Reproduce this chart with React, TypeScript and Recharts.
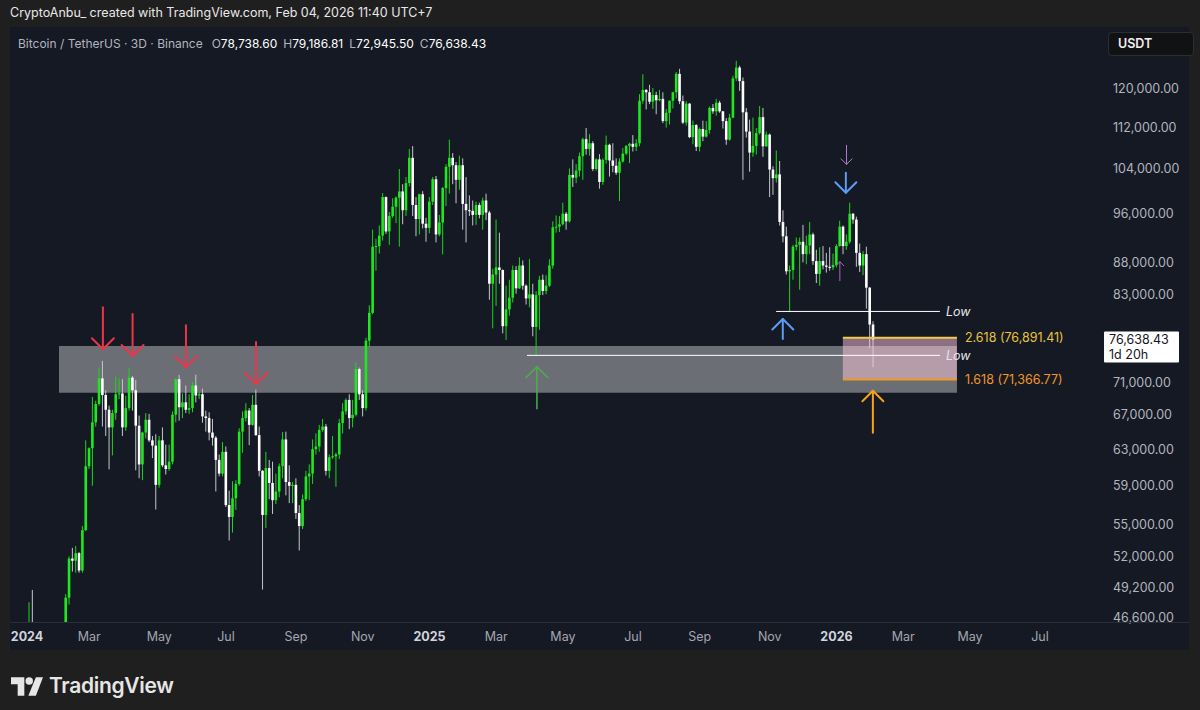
import React from 'react';
import { ComposedChart, Bar, XAxis, YAxis, ReferenceArea, ReferenceLine, ReferenceDot } from 'recharts';

// ---- 3D candles (BTC/USDT, Binance), bar 0 = Jan 1 2024, bar 255 = Feb 3 2026. Prices in thousands ----
const firstOpenK = 42.28;
const closeK = [
  42.85, 44.0, 46.1, 42.8, 42.5, 41.3, 41.6, 40.1, 42.1, 43.3,
  43.2, 42.7, 45.3, 48.3, 51.8, 51.6, 52.3, 50.7, 54.5, 61.1,
  63.1, 66.1, 68.3, 71.5, 69.4, 67.6, 65.5, 67.2, 69.5, 69.6,
  65.5, 67.8, 71.6, 70.0, 65.7, 61.3, 64.9, 66.4, 64.0, 63.4,
  59.1, 64.0, 61.2, 60.8, 61.6, 67.0, 71.4, 67.9, 68.5, 67.6,
  67.8, 70.6, 69.35, 69.5, 66.8, 66.6, 64.9, 64.3, 61.8, 60.3,
  62.7, 57.0, 55.8, 57.7, 59.2, 65.0, 66.6, 67.5, 65.8, 68.2,
  64.6, 60.6, 56.0, 60.9, 59.3, 57.5, 58.4, 61.1, 64.1, 59.4,
  59.0, 59.1, 56.2, 54.9, 57.6, 60.0, 60.3, 63.0, 63.3, 65.2,
  65.6, 60.6, 62.1, 62.2, 62.4, 66.0, 67.4, 68.8, 66.6, 67.0,
  72.7, 69.5, 67.8, 76.5, 80.4, 90.5, 90.6, 92.3, 98.9, 93.0,
  95.6, 97.2, 98.8, 99.9, 96.6, 101.4, 106.1, 97.5, 95.1, 99.4,
  94.3, 93.6, 98.1, 102.1, 92.5, 94.5, 100.5, 104.4, 106.1, 104.7,
  102.0, 104.7, 97.7, 96.6, 96.5, 95.8, 97.5, 95.8, 98.3, 96.2,
  84.7, 86.1, 87.2, 86.8, 78.5, 80.9, 82.6, 86.8, 84.0, 87.5,
  84.4, 82.5, 83.1, 78.4, 83.0, 85.3, 83.6, 84.4, 87.5, 93.7,
  93.8, 94.2, 96.0, 94.7, 102.9, 102.4, 103.7, 106.4, 109.7, 107.8,
  108.9, 104.0, 105.8, 101.6, 105.7, 108.6, 105.6, 104.6, 103.3, 105.4,
  106.9, 108.4, 108.8, 108.2, 108.9, 117.5, 119.8, 119.3, 117.3, 118.7,
  117.6, 117.9, 113.3, 115.0, 117.5, 119.3, 123.3, 117.4, 113.0, 116.9,
  110.1, 112.5, 108.2, 111.7, 110.2, 111.5, 116.0, 115.3, 117.1, 115.3,
  113.3, 109.6, 114.0, 122.3, 124.7, 121.7, 115.1, 111.2, 107.1, 108.4,
  110.9, 114.1, 108.3, 110.6, 103.9, 102.3, 103.0, 94.6, 92.2, 86.6,
  86.8, 90.5, 90.8, 91.3, 89.3, 90.7, 92.5, 88.2, 86.2, 88.2,
  87.5, 87.3, 87.2, 87.6, 90.6, 93.8, 90.6, 91.3, 96.0, 95.0,
  89.5, 87.5, 89.3, 84.1, 78.7386, 76.63843,
];
const highK = [
  45.9, 44.7, 47.9, 48.97, 43.4, 43.6, 42.2, 41.7, 42.2, 43.9,
  43.7, 43.5, 45.6, 48.6, 52.0, 52.8, 52.99, 52.4, 54.9, 64.0,
  63.2, 69.17, 68.7, 72.9, 73.78, 70.0, 68.1, 67.6, 71.7, 71.5,
  71.4, 69.3, 72.8, 71.8, 71.3, 66.9, 65.0, 67.2, 67.1, 64.5,
  64.7, 64.5, 65.5, 63.5, 63.5, 67.4, 71.5, 71.95, 69.6, 70.6,
  69.5, 71.0, 71.98, 69.8, 70.2, 67.5, 67.3, 66.5, 64.5, 62.4,
  63.8, 63.3, 58.5, 59.5, 59.6, 65.4, 67.4, 68.4, 67.8, 69.4,
  70.08, 65.6, 60.7, 62.7, 61.8, 61.6, 60.3, 61.4, 64.95, 65.0,
  61.2, 59.4, 59.8, 57.0, 58.1, 60.6, 61.3, 64.1, 64.8, 65.8,
  66.5, 65.9, 62.4, 64.5, 62.6, 66.5, 68.4, 69.0, 69.5, 68.8,
  73.6, 72.9, 70.0, 76.9, 81.5, 93.3, 91.8, 94.0, 99.6, 99.0,
  96.3, 98.7, 99.0, 104.0, 101.2, 102.5, 107.8, 108.35, 98.9, 99.5,
  99.95, 95.3, 98.9, 102.5, 102.7, 95.8, 100.7, 104.9, 109.6, 107.0,
  105.3, 106.5, 106.0, 102.5, 99.2, 98.3, 98.1, 97.9, 98.8, 99.5,
  96.5, 87.0, 95.0, 92.8, 86.9, 84.4, 85.3, 87.5, 87.4, 88.8,
  88.3, 84.6, 88.5, 84.7, 83.6, 85.9, 86.1, 86.0, 88.5, 94.7,
  95.7, 95.6, 97.9, 96.3, 104.1, 105.8, 104.9, 107.1, 110.0, 111.9,
  110.7, 109.3, 106.0, 106.8, 106.0, 110.4, 108.8, 108.9, 106.0, 106.0,
  108.0, 108.5, 109.0, 110.5, 109.7, 118.9, 123.2, 120.0, 120.9, 120.2,
  119.4, 119.8, 119.3, 115.8, 117.6, 119.4, 123.7, 124.4, 118.6, 117.4,
  117.0, 113.4, 112.7, 112.0, 113.4, 113.3, 116.3, 116.8, 117.9, 117.5,
  115.4, 113.9, 114.8, 122.9, 126.2, 125.1, 122.5, 116.0, 113.6, 114.0,
  111.9, 116.4, 116.0, 111.2, 110.8, 104.5, 107.5, 105.5, 96.6, 93.8,
  87.5, 90.8, 92.0, 92.0, 94.1, 92.3, 94.6, 92.8, 90.0, 90.4,
  90.6, 89.5, 90.4, 89.4, 90.9, 94.8, 94.0, 92.5, 97.9, 96.1,
  95.5, 91.0, 89.8, 90.5, 84.2, 79.18681,
];
const lowK = [
  40.75, 42.6, 43.5, 41.5, 41.7, 40.7, 40.3, 38.55, 39.5, 41.6,
  41.9, 42.3, 42.6, 45.2, 47.7, 50.6, 50.5, 50.5, 50.5, 54.4,
  60.8, 59.0, 65.6, 68.1, 65.6, 64.5, 60.76, 62.3, 66.4, 68.9,
  64.5, 65.1, 67.5, 67.5, 60.66, 59.8, 59.6, 64.2, 63.8, 62.0,
  56.55, 58.8, 61.0, 60.2, 60.6, 61.3, 66.1, 66.3, 66.6, 67.2,
  67.1, 67.3, 68.5, 68.9, 66.05, 65.0, 64.0, 63.4, 58.4, 60.0,
  60.0, 56.8, 53.5, 54.26, 56.5, 59.0, 62.6, 66.2, 63.45, 65.7,
  64.5, 60.0, 49.0, 54.7, 57.6, 56.1, 57.1, 57.8, 59.8, 58.0,
  57.2, 57.2, 55.6, 52.55, 54.6, 57.4, 57.5, 59.2, 62.4, 62.7,
  65.0, 60.1, 59.8, 61.9, 58.9, 61.9, 64.8, 67.0, 65.3, 65.5,
  66.8, 68.8, 66.8, 67.5, 75.6, 80.2, 86.7, 89.4, 91.5, 92.6,
  90.8, 95.3, 94.4, 90.5, 94.2, 95.6, 100.8, 95.6, 92.2, 92.5,
  93.5, 91.3, 92.7, 97.5, 91.2, 92.2, 89.25, 97.3, 99.5, 101.2,
  97.8, 100.2, 93.3, 91.2, 95.6, 94.0, 94.1, 95.2, 93.3, 94.9,
  82.3, 78.2, 81.4, 84.7, 77.5, 76.6, 80.0, 81.9, 83.2, 83.9,
  83.8, 81.6, 81.2, 77.1, 74.5, 78.0, 83.0, 83.1, 84.2, 87.0,
  92.8, 92.9, 94.0, 93.3, 94.5, 100.7, 101.4, 102.6, 102.0, 106.7,
  106.5, 103.6, 103.7, 100.4, 101.1, 105.0, 102.6, 103.4, 102.9, 98.2,
  105.2, 106.6, 105.1, 107.3, 107.4, 108.3, 116.9, 115.7, 116.8, 115.8,
  114.7, 117.4, 112.9, 112.0, 112.6, 115.9, 118.0, 116.8, 112.7, 112.4,
  109.9, 108.7, 107.4, 107.3, 109.3, 110.0, 110.8, 114.8, 114.4, 115.0,
  111.8, 108.6, 109.4, 113.9, 121.7, 119.6, 102.0, 110.0, 103.5, 106.3,
  106.7, 110.6, 106.3, 108.2, 98.9, 99.3, 101.5, 94.0, 91.2, 86.1,
  80.6, 85.3, 89.9, 83.8, 88.0, 87.7, 89.3, 87.6, 84.8, 84.4,
  86.9, 86.4, 86.7, 86.8, 87.2, 90.5, 89.3, 90.0, 91.0, 94.3,
  87.3, 86.5, 86.0, 81.0, 75.5, 72.9455,
];

// ---- axes ----
const yTicks = [120000, 112000, 104000, 96000, 88000, 83000, 71000, 67000, 63000, 59000, 55000, 52000, 49200, 46600];
const xTickBars = [0, 20, 41, 61, 82, 102, 122, 142, 162, 183, 203, 224, 244, 264, 284, 305];
const xTickLabels = ['2024', 'Mar', 'May', 'Jul', 'Sep', 'Nov', '2025', 'Mar', 'May', 'Jul', 'Sep', 'Nov', '2026', 'Mar', 'May', 'Jul'];
const xDomain = [-3.747, 322.98];
const yDomain = [46240, 134078];

// ---- drawings (bar index, price) ----
const greyZone = { x1: 10.94, x2: 280.1, y1: 69680, y2: 75760 };
const fibZone = { x1: 245.9, x2: 280.1 };
const fibLevels = [76891.41, 71366.77];
const fibLabels = ['2.618 (76,891.41)', '1.618 (71,366.77)'];
const lowLines = [
  { x1: 225.9, x2: 275.0, price: 80600 },
  { x1: 151.2, x2: 275.0, price: 74508 },
];
const redDownTips = [
  { x: 24.1, p: 75320 },
  { x: 33.0, p: 74420 },
  { x: 49.0, p: 72930 },
  { x: 70.0, p: 70790 },
];
const greenUpTip = { x: 154.2, p: 73000 };
const blueUpTip = { x: 227.9, p: 79520 };
const blueDownTip = { x: 246.8, p: 99680 };
const purpleDownTip = { x: 247.0, p: 104870 };
const purpleUpTip = { x: 245.0, p: 88100 };
const orangeUpTip = { x: 254.9, p: 69940 };
const lastPrice = 76638.43;

const candles = closeK.map((c, i) => {
  const o = i === 0 ? firstOpenK : closeK[i - 1];
  return { i, o: o * 1000, h: highK[i] * 1000, l: lowK[i] * 1000, c: c * 1000, range: [lowK[i] * 1000, highK[i] * 1000] };
});

// ---- styles ----
const BG = '#151924';
const UP = '#1ee81e';
const UP_WICK = '#1ed41e';
const DOWN = '#ffffff';
const DOWN_WICK = '#c4c6cc';
const FONT = 'Inter, "Noto Sans", sans-serif';

function Candle(props: any) {
  const { x, y, width, height, payload } = props;
  if (x == null || y == null || !payload) return null;
  const { o, h, l, c } = payload;
  const lh = Math.log(h);
  const ll = Math.log(l);
  const k = lh - ll > 0 ? height / (lh - ll) : 0;
  const yo = y + (lh - Math.log(o)) * k;
  const yc = y + (lh - Math.log(c)) * k;
  const cx = x + width / 2;
  const up = c >= o;
  const top = Math.min(yo, yc);
  const bh = Math.max(1, Math.abs(yo - yc));
  const bw = 2.6;
  return (
    <g>
      <line x1={cx} x2={cx} y1={y} y2={y + height} stroke={up ? UP_WICK : DOWN_WICK} strokeWidth={1} />
      <rect x={cx - bw / 2} y={top} width={bw} height={bh} fill={up ? UP : DOWN} />
    </g>
  );
}

function arrowShape(color: string, dir: 'up' | 'down', len: number, head: number, sw: number) {
  return (p: any) => {
    const { cx, cy } = p;
    if (cx == null || cy == null) return null;
    const s = dir === 'down' ? -1 : 1;
    return (
      <g fill="none" stroke={color} strokeWidth={sw} strokeLinecap="round" strokeLinejoin="round">
        <line x1={cx} y1={cy} x2={cx} y2={cy + s * len} />
        <polyline points={`${cx - head},${cy + s * head} ${cx},${cy} ${cx + head},${cy + s * head}`} />
      </g>
    );
  };
}

function textShape(text: string, color: string, dx: number, italic: boolean) {
  return (p: any) => {
    const { cx, cy } = p;
    if (cx == null || cy == null) return null;
    return (
      <text x={cx + dx} y={cy} dy="0.35em" fill={color} fontSize={12.5} fontFamily={FONT} fontStyle={italic ? 'italic' : 'normal'}>
        {text}
      </text>
    );
  };
}

function PriceTag(props: any) {
  const vb = props.viewBox || {};
  const x = vb.x + vb.width + 4;
  const y = vb.y;
  return (
    <g>
      <rect x={x} y={y - 8} width={75} height={31} fill="#ffffff" rx={1} />
      <text x={x + 5} y={y + 4.5} fill="#131722" fontSize={12.5} fontFamily={FONT}>76,638.43</text>
      <text x={x + 5} y={y + 19} fill="#131722" fontSize={12.5} fontFamily={FONT}>1d 20h</text>
    </g>
  );
}

function XTick(props: any) {
  const { x, y, payload } = props;
  const idx = xTickBars.indexOf(payload.value);
  const label = idx >= 0 ? xTickLabels[idx] : '';
  const isYear = /^\d{4}$/.test(label);
  // keep the first label inside the panel (it sits at the very left edge)
  const halfW = isYear ? 16 : 12;
  const tx = Math.max(x, halfW + 1);
  return (
    <text x={tx} y={y} dy="0.71em" textAnchor="middle" fill={isYear ? '#d1d4dc' : '#a3a6af'} fontSize={12.5}
      fontWeight={isYear ? 700 : 400} fontFamily={FONT}>
      {label}
    </text>
  );
}

const fmt = (v: number) => v.toLocaleString('en-US', { minimumFractionDigits: 2, maximumFractionDigits: 2 });

export default function App() {
  return (
    <div style={{ position: 'absolute', left: 0, top: 0, width: 1200, height: 710, background: '#1f1f1f', overflow: 'hidden', fontFamily: FONT }}>
      <div style={{ position: 'absolute', left: 10, top: 5, fontSize: 12.5, color: '#e8e8e8', whiteSpace: 'nowrap', lineHeight: '16px' }}>
        CryptoAnbu_ created with TradingView.com, Feb 04, 2026 11:40 UTC+7
      </div>
      <div style={{ position: 'absolute', left: 10, top: 27, width: 1179, height: 623, background: BG }} />
      <div style={{ position: 'absolute', left: 10, top: 27 }}>
        <ComposedChart width={1179} height={623} data={candles} margin={{ top: 0, right: 0, bottom: 0, left: 0 }}>
          <XAxis dataKey="i" type="number" domain={xDomain} allowDataOverflow ticks={xTickBars} interval={0}
            height={28} axisLine={false} tickLine={false} tickMargin={4} tick={<XTick />} />
          <YAxis orientation="right" type="number" scale="log" domain={yDomain} allowDataOverflow ticks={yTicks}
            interval={0} width={89} axisLine={false} tickLine={false} tickMargin={7} tickFormatter={fmt}
            tick={{ fill: '#b2b5be', fontSize: 12.5, fontFamily: FONT }} />
          <ReferenceArea x1={greyZone.x1} x2={greyZone.x2} y1={greyZone.y1} y2={greyZone.y2}
            fill="#6c6e75" fillOpacity={1} stroke="none" zIndex={50} />
          <Bar dataKey="range" barSize={3} isAnimationActive={false} shape={Candle} />
          <ReferenceArea x1={fibZone.x1} x2={fibZone.x2} y1={fibLevels[1]} y2={fibLevels[0]}
            fill="#ffc8dc" fillOpacity={0.5} stroke="none" zIndex={350} />
          <ReferenceLine segment={[{ x: fibZone.x1, y: fibLevels[0] }, { x: fibZone.x2, y: fibLevels[0] }]} stroke="#f2c94c" strokeWidth={2} />
          <ReferenceLine segment={[{ x: fibZone.x1, y: fibLevels[1] }, { x: fibZone.x2, y: fibLevels[1] }]} stroke="#f39a1e" strokeWidth={2} />
          {lowLines.map((ln, k) => (
            <ReferenceLine key={'low' + k} segment={[{ x: ln.x1, y: ln.price }, { x: ln.x2, y: ln.price }]} stroke="#ffffff" strokeWidth={1} />
          ))}
          <ReferenceLine y={lastPrice} stroke="none" label={(p: any) => <PriceTag {...p} />} />
          {lowLines.map((ln, k) => (
            <ReferenceDot key={'lowt' + k} x={ln.x2} y={ln.price} shape={textShape('Low', '#e6e6e6', 6, true)} />
          ))}
          <ReferenceDot x={fibZone.x2} y={fibLevels[0]} shape={textShape(fibLabels[0], '#e8c43c', 8, false)} />
          <ReferenceDot x={fibZone.x2} y={fibLevels[1]} shape={textShape(fibLabels[1], '#f0962a', 8, false)} />
          {redDownTips.map((t, k) => (
            <ReferenceDot key={'red' + k} x={t.x} y={t.p} shape={arrowShape('#e8364a', 'down', 42, 11, 2)} />
          ))}
          <ReferenceDot x={greenUpTip.x} y={greenUpTip.p} shape={arrowShape('#4caf50', 'up', 42, 11, 1.5)} />
          <ReferenceDot x={blueUpTip.x} y={blueUpTip.p} shape={arrowShape('#5b9cf6', 'up', 20, 10.5, 2)} />
          <ReferenceDot x={blueDownTip.x} y={blueDownTip.p} shape={arrowShape('#5b9cf6', 'down', 20, 10.5, 2)} />
          <ReferenceDot x={purpleDownTip.x} y={purpleDownTip.p} shape={arrowShape('#b07cd0', 'down', 19, 5.5, 1)} />
          <ReferenceDot x={purpleUpTip.x} y={purpleUpTip.p} shape={arrowShape('#9c6fb5', 'up', 19, 4, 1)} />
          <ReferenceDot x={orangeUpTip.x} y={orangeUpTip.p} shape={arrowShape('#f7a21b', 'up', 42, 10.5, 2)} />
        </ComposedChart>
      </div>
      <div style={{ position: 'absolute', left: 10, top: 622, width: 1179, height: 1, background: '#2a2e39' }} />
      <div style={{ position: 'absolute', left: 18, top: 36, fontSize: 12, lineHeight: '16px', whiteSpace: 'nowrap', color: '#b2b5be' }}>
        <span>Bitcoin / TetherUS · 3D · Binance</span>
        <span style={{ marginLeft: 9 }}>O</span><span style={{ color: '#ffffff' }}>78,738.60</span>
        <span style={{ marginLeft: 6 }}>H</span><span style={{ color: '#ffffff' }}>79,186.81</span>
        <span style={{ marginLeft: 6 }}>L</span><span style={{ color: '#ffffff' }}>72,945.50</span>
        <span style={{ marginLeft: 6 }}>C</span><span style={{ color: '#ffffff' }}>76,638.43</span>
      </div>
      <div style={{ position: 'absolute', left: 1108, top: 32, width: 75, height: 22, background: '#111214', border: '1px solid #2c2d31',
        borderRadius: 4, color: '#f0f0f0', fontSize: 12.5, fontWeight: 600, lineHeight: '22px', paddingLeft: 9, boxSizing: 'content-box' }}>
        USDT
      </div>
      <svg style={{ position: 'absolute', left: 11, top: 677 }} width={32} height={19} viewBox="0 0 36 21">
        <path d="M0 0 H15 V21 H7.5 V8 H0 Z" fill="#e6e6e6" />
        <circle cx={20.5} cy={4.2} r={4.2} fill="#e6e6e6" />
        <path d="M28 0 H36 L28 21 H19.5 Z" fill="#e6e6e6" />
      </svg>
      <div style={{ position: 'absolute', left: 49, top: 672, fontSize: 21, fontWeight: 600, color: '#e6e6e6', lineHeight: '28px', letterSpacing: -0.3 }}>
        TradingView
      </div>
    </div>
  );
}
